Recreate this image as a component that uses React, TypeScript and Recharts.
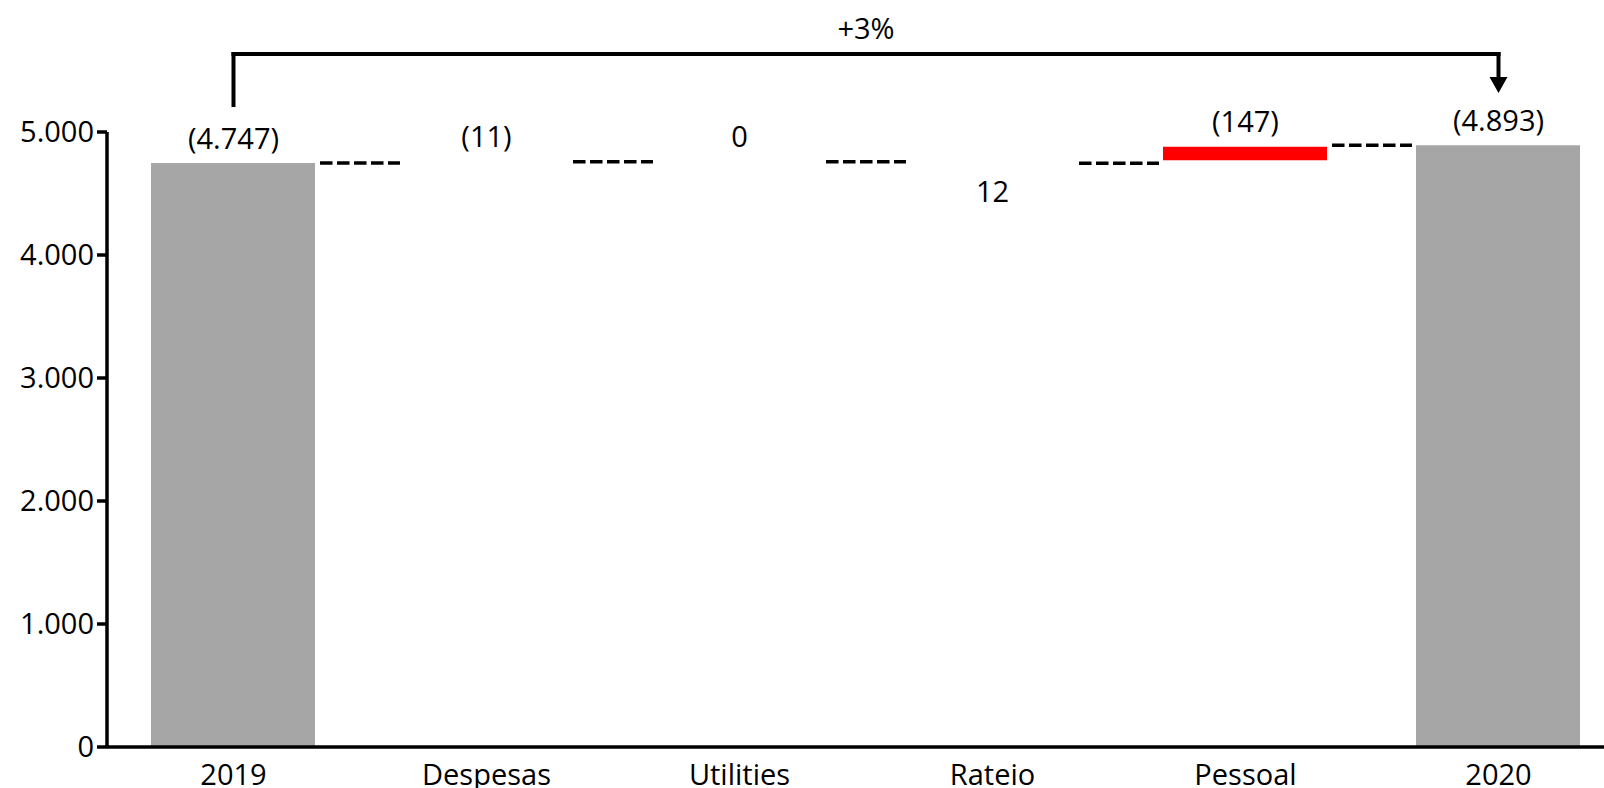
import React from 'react';
import {
  ComposedChart,
  Bar,
  Cell,
  XAxis,
  YAxis,
  ReferenceLine,
  ReferenceDot,
} from 'recharts';

const categories = ['2019', 'Despesas', 'Utilities', 'Rateio', 'Pessoal', '2020'];
const barLow = [0, 4747, 4758, 4746, 4770, 0];
const barHigh = [4747, 4758, 4758, 4758, 4880, 4893];
const barLabels = ['(4.747)', '(11)', '0', '12', '(147)', '(4.893)'];
const labelBelow = [false, false, false, true, false, false];
const barColors = ['#a6a6a6', 'none', 'none', 'none', '#ff0000', '#a6a6a6'];
const connectorLevels = [4747, 4758, 4758, 4746, 4893];
const yTicks = [0, 1000, 2000, 3000, 4000, 5000];
const yTickLabels = ['0', '1.000', '2.000', '3.000', '4.000', '5.000'];
const changeLabel = '+3%';

// bracket annotation above the chart (in value units)
const bracketStartY = 5203;
const bracketTopY = 5634;
const arrowBaseY = 5447;
const arrowTipY = 5317;
const changeLabelY = 5846;

const data = categories.map((name, i) => ({
  pos: i,
  name,
  range: [barLow[i], barHigh[i]],
}));

const FONT = '"Open Sans", sans-serif';
const FS = 29;

// value label sitting above (or below) a bar edge
const ValueText = ({ cx, cy, text, below }: any) => (
  <text
    x={cx}
    y={below ? cy + 27 : cy - 26}
    textAnchor="middle"
    dominantBaseline="central"
    fill="#000"
    fontSize={FS}
    fontFamily={FONT}
  >
    {text}
  </text>
);

const Arrow = (props: any) => {
  const { cx, cy } = props;
  return <polygon points={`${cx - 9},${cy - 16} ${cx + 9},${cy - 16} ${cx},${cy}`} fill="#000" />;
};

const ChangeText = (props: any) => {
  const { cx, cy } = props;
  return (
    <text x={cx} y={cy} textAnchor="middle" dominantBaseline="central" fill="#000" fontSize={FS} fontFamily={FONT}>
      {changeLabel}
    </text>
  );
};

export default function App() {
  return (
    <div
      style={{
        position: 'fixed',
        left: 0,
        top: 0,
        width: 1604,
        height: 788,
        overflow: 'hidden',
        background: '#fff',
        fontFamily: FONT,
      }}
    >
      <ComposedChart
        width={1640}
        height={800}
        data={data}
        margin={{ top: 132, right: 15, bottom: 0, left: 7 }}
      >
        <XAxis
          dataKey="pos"
          type="number"
          domain={[-0.5, 5.5]}
          ticks={[0, 1, 2, 3, 4, 5]}
          tickFormatter={(v: number) => categories[v]}
          tickLine={false}
          tickSize={0}
          tickMargin={17}
          height={53}
          axisLine={{ stroke: '#000', strokeWidth: 3.5 }}
          tick={{ fill: '#000', fontSize: FS, fontFamily: FONT }}
          allowDataOverflow
        />
        <YAxis
          type="number"
          domain={[0, 5000]}
          ticks={yTicks}
          tickFormatter={(v: number) => yTickLabels[yTicks.indexOf(v)]}
          width={100}
          tickSize={10}
          tickMargin={3}
          tickLine={{ stroke: '#000', strokeWidth: 3.5 }}
          axisLine={{ stroke: '#000', strokeWidth: 3.5 }}
          tick={{ fill: '#000', fontSize: FS, fontFamily: FONT }}
        />
        <Bar dataKey="range" barSize={164} isAnimationActive={false}>
          {data.map((d, i) => (
            <Cell key={d.name} fill={barColors[i]} />
          ))}
        </Bar>
        {connectorLevels.map((lvl, i) => (
          <ReferenceLine
            key={`c${i}`}
            segment={[
              { x: i + 0.5 - 0.158, y: lvl },
              { x: i + 0.5 + 0.158, y: lvl },
            ]}
            stroke="#000"
            strokeWidth={3.5}
            strokeDasharray="12.5 4.5"
            ifOverflow="visible"
          />
        ))}
        {categories.map((c, i) => (
          <ReferenceDot
            key={`l${c}`}
            x={i}
            y={labelBelow[i] ? barLow[i] : barHigh[i]}
            r={0}
            ifOverflow="visible"
            shape={(p: any) => <ValueText cx={p.cx} cy={p.cy} text={barLabels[i]} below={labelBelow[i]} />}
          />
        ))}
        <ReferenceLine
          segment={[
            { x: 0, y: bracketStartY },
            { x: 0, y: bracketTopY + 16 },
          ]}
          stroke="#000"
          strokeWidth={4}
          ifOverflow="visible"
        />
        <ReferenceLine
          segment={[
            { x: -0.008, y: bracketTopY },
            { x: 5.008, y: bracketTopY },
          ]}
          stroke="#000"
          strokeWidth={4}
          ifOverflow="visible"
        />
        <ReferenceLine
          segment={[
            { x: 5, y: bracketTopY + 16 },
            { x: 5, y: arrowBaseY },
          ]}
          stroke="#000"
          strokeWidth={4}
          ifOverflow="visible"
        />
        <ReferenceDot x={5} y={arrowTipY} r={0} ifOverflow="visible" shape={<Arrow />} />
        <ReferenceDot x={2.5} y={changeLabelY} r={0} ifOverflow="visible" shape={<ChangeText />} />
      </ComposedChart>
    </div>
  );
}
